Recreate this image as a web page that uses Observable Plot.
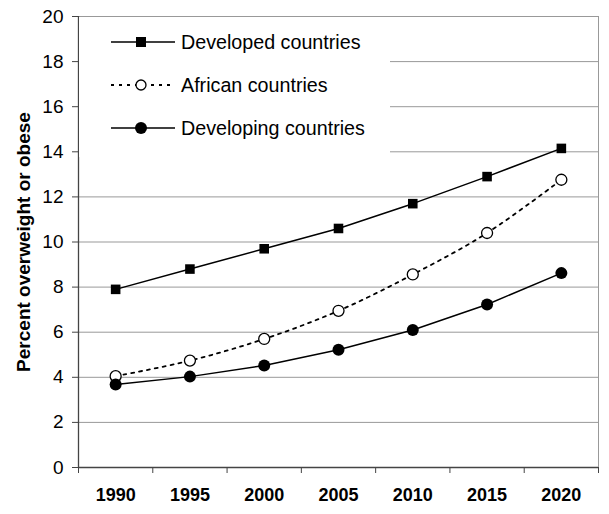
<!DOCTYPE html>
<html>
<head>
<meta charset="utf-8">
<script src="https://cdn.jsdelivr.net/npm/d3@7"></script>
<script src="https://cdn.jsdelivr.net/npm/@observablehq/plot@0.6"></script>
<style>
  html, body { margin: 0; padding: 0; background: white; }
  #wrap { position: relative; width: 609px; height: 514px; font-family: "Liberation Sans", Arial, sans-serif; }
  #legend { position: absolute; left: 79px; top: 17px; width: 311px; height: 140px; background: white; }
  .row { position: absolute; left: 0; height: 24px; width: 311px; }
  .row svg { position: absolute; left: 0; top: 0; }
  .row span { position: absolute; left: 102px; top: 0; line-height: 24px; font-size: 19.7px; color: #000; white-space: nowrap; }
</style>
</head>
<body>
<div id="wrap"></div>
<script>
const years = [1990, 1995, 2000, 2005, 2010, 2015, 2020];
const developed = [7.9, 8.8, 9.7, 10.6, 11.7, 12.9, 14.15];
const african = [4.05, 4.74, 5.7, 6.95, 8.56, 10.4, 12.76];
const developing = [3.68, 4.03, 4.52, 5.22, 6.1, 7.23, 8.62];
const seriesNames = ["Developed countries", "African countries", "Developing countries"];
const yTicks = [0, 2, 4, 6, 8, 10, 12, 14, 16, 18, 20];
const gridValues = [2, 4, 6, 8, 10, 12, 14, 16, 18];
const yLabel = "Percent overweight or obese";

const half = 2.5;
const bounds = [...years.map(y => y - half), years[years.length - 1] + half];
const toRows = vals => years.map((year, i) => ({year, v: vals[i]}));
const devRows = toRows(developed), afrRows = toRows(african), dvgRows = toRows(developing);

const chart = Plot.plot({
  width: 609, height: 514,
  marginLeft: 78, marginRight: 11, marginTop: 16, marginBottom: 47,
  style: {fontFamily: "'Liberation Sans', Arial, sans-serif", background: "white", color: "black"},
  x: {domain: [bounds[0], bounds[bounds.length - 1]]},
  y: {domain: [0, 20]},
  marks: [
    Plot.gridY(gridValues, {stroke: "#999", strokeOpacity: 1}),
    Plot.frame({stroke: "#999"}),
    Plot.axisY(yTicks, {tickSize: 6, tickPadding: 9, fontSize: 19, stroke: "#444", fill: "black", label: null}),
    Plot.axisX(bounds, {tickSize: 6, tickFormat: () => "", stroke: "#444", label: null}),
    Plot.axisX(years, {tickSize: 0, tickPadding: 21, tickFormat: d => String(d), fontSize: 18, fontWeight: "bold", fill: "black", label: null}),
    Plot.ruleY([0], {stroke: "#444", strokeWidth: 1.3}),
    Plot.ruleX([bounds[0]], {stroke: "#444", strokeWidth: 1.3}),
    Plot.text([yLabel], {frameAnchor: "left", textAnchor: "middle", dx: -55, rotate: -90, fontSize: 19, fontWeight: "bold", fill: "black"}),
    Plot.line(devRows, {x: "year", y: "v", stroke: "black", strokeWidth: 1.5}),
    Plot.dot(devRows, {x: "year", y: "v", symbol: "square", r: 5.4, fill: "black"}),
    Plot.line(afrRows, {x: "year", y: "v", stroke: "black", strokeWidth: 1.8, strokeDasharray: "3,5", curve: "catmull-rom"}),
    Plot.dot(afrRows, {x: "year", y: "v", r: 5.5, fill: "white", stroke: "black", strokeWidth: 1.3}),
    Plot.line(dvgRows, {x: "year", y: "v", stroke: "black", strokeWidth: 1.5}),
    Plot.dot(dvgRows, {x: "year", y: "v", r: 6, fill: "black"})
  ]
});

const wrap = document.getElementById("wrap");
wrap.appendChild(chart);

const legend = document.createElement("div");
legend.id = "legend";
const rowTops = [13, 56, 99];
const swatches = [
  '<line x1="32" y1="12" x2="96" y2="12" stroke="black" stroke-width="1.5"/><rect x="57" y="7" width="10" height="10" fill="black"/>',
  '<line x1="32" y1="12" x2="96" y2="12" stroke="black" stroke-width="1.8" stroke-dasharray="3,5"/><circle cx="62" cy="12" r="5" fill="white" stroke="black" stroke-width="1.3"/>',
  '<line x1="32" y1="12" x2="96" y2="12" stroke="black" stroke-width="1.5"/><circle cx="62" cy="12" r="6" fill="black"/>'
];
seriesNames.forEach((name, i) => {
  const row = document.createElement("div");
  row.className = "row";
  row.style.top = rowTops[i] + "px";
  row.innerHTML = '<svg width="100" height="24">' + swatches[i] + '</svg><span>' + name + '</span>';
  legend.appendChild(row);
});
wrap.appendChild(legend);
</script>
</body>
</html>
